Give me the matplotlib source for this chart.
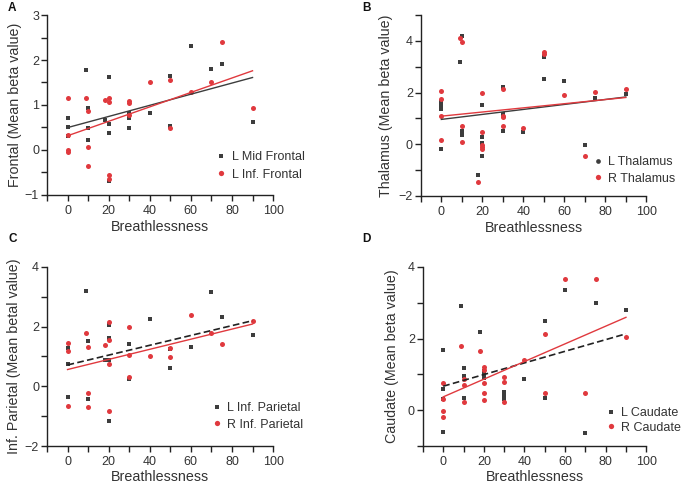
import numpy as np
import matplotlib
matplotlib.use('Agg')
import matplotlib.pyplot as plt
from matplotlib.lines import Line2D
from matplotlib.ticker import FixedLocator

plt.rcParams['font.family'] = ['Liberation Sans', 'DejaVu Sans']

GRAY = '#3d3d3d'
RED = '#e0393e'
TXT = '#333333'

# Panel A - frontal
a_l_x = [0, 0, 0, 9, 10, 10, 10, 18, 20, 20, 20, 20, 30, 30, 30, 40, 50, 50, 60, 70, 75, 90]
a_l_y = [0.70, 0.50, 0.30, 1.78, 0.93, 0.49, 0.22, 0.67, 1.62, 0.57, 0.37, -0.70, 0.83, 0.72, 0.48,
         0.81, 1.64, 0.54, 2.32, 1.80, 1.91, 0.61]
a_r_x = [0, 0, 0, 0, 9, 10, 10, 10, 18, 20, 20, 20, 20, 30, 30, 30, 40, 50, 50, 60, 70, 75, 90]
a_r_y = [1.15, 0.33, -0.01, -0.04, 1.16, 0.86, 0.07, -0.35, 1.11, 1.16, 1.07, -0.56, -0.64, 1.08, 1.04,
         0.78, 1.50, 1.55, 0.48, 1.28, 1.50, 2.41, 0.93]

# Panel B - thalamus
b_l_x = [0, 0, 0, 0, 9, 10, 10, 10, 10, 18, 20, 20, 20, 20, 30, 30, 30, 40, 50, 50, 60, 70, 75, 90]
b_l_y = [1.62, 1.53, 1.35, -0.17, 3.17, 4.18, 0.50, 0.43, 0.34, -1.20, 1.51, 0.26, 0.04, -0.44, 2.20,
         1.17, 0.50, 0.47, 3.37, 2.52, 2.46, -0.03, 1.77, 1.95]
b_r_x = [0, 0, 0, 0, 9, 10, 10, 10, 18, 20, 20, 20, 20, 20, 30, 30, 30, 30, 40, 50, 50, 60, 70, 75, 90]
b_r_y = [2.04, 1.75, 1.08, 0.17, 4.10, 3.95, 0.72, 0.07, -1.46, 1.99, 0.48, -0.03, -0.12, -0.19, 2.14,
         1.10, 1.05, 0.71, 0.62, 3.56, 3.49, 1.91, -0.45, 2.01, 2.14]

# Panel C - inferior parietal
c_l_x = [0, 0, 0, 9, 10, 10, 18, 20, 20, 20, 20, 30, 30, 40, 50, 50, 60, 70, 75, 90]
c_l_y = [1.30, 0.75, -0.36, 3.19, 1.52, -0.41, 0.89, 2.05, 1.61, 0.88, -1.17, 1.42, 0.25, 2.26, 1.25,
         0.63, 1.32, 3.15, 2.32, 1.72]
c_r_x = [0, 0, 0, 9, 10, 10, 10, 18, 20, 20, 20, 20, 30, 30, 30, 40, 50, 50, 60, 70, 75, 90]
c_r_y = [1.45, 1.19, -0.67, 1.79, 1.33, -0.23, -0.69, 1.39, 2.14, 1.56, 0.75, -0.84, 1.99, 1.04, 0.30,
         1.01, 1.27, 0.99, 2.40, 1.80, 1.42, 2.20]

# Panel D - caudate
d_l_x = [0, 0, 0, 0, 9, 10, 10, 10, 18, 20, 20, 20, 20, 30, 30, 30, 30, 40, 50, 50, 60, 70, 75, 90]
d_l_y = [1.68, 0.59, 0.31, -0.62, 2.92, 1.18, 0.96, 0.33, 2.18, 1.10, 1.02, 0.95, 0.90, 0.50, 0.44,
         0.37, 0.32, 0.86, 2.48, 0.34, 3.35, -0.64, 3.00, 2.81]
d_r_x = [0, 0, 0, 0, 9, 10, 10, 10, 18, 20, 20, 20, 20, 20, 30, 30, 30, 40, 50, 50, 60, 70, 75, 90]
d_r_y = [0.75, 0.31, -0.03, -0.18, 1.80, 0.87, 0.71, 0.22, 1.65, 1.21, 1.13, 0.76, 0.48, 0.28, 0.92,
         0.80, 0.23, 1.39, 2.13, 0.49, 3.66, 0.47, 3.67, 2.05]

fig = plt.figure(figsize=(6.81, 4.87), dpi=100)


def panel(rect, lx, ly, rx, ry, ylim, yticks, ylabel, labels, leg_pos, leg_space,
          dashed=False, round_legend=False, ylab_x=-0.11, xlab_y=-0.135):
    ax = fig.add_axes(rect)
    ax.scatter(lx, ly, marker='s', s=11, color=GRAY, linewidths=0, zorder=2)
    ax.scatter(rx, ry, marker='o', s=13, color=RED, linewidths=0, zorder=2)

    xs = np.array([0, 90])
    k, b = np.polyfit(lx, ly, 1)
    ax.plot(xs, k * xs + b, color='#222222' if dashed else GRAY, lw=1.0 if not dashed else 1.2,
            ls=(0, (4, 2)) if dashed else '-', zorder=3)
    k, b = np.polyfit(rx, ry, 1)
    ax.plot(xs, k * xs + b, color=RED, lw=1.0, zorder=3)

    ax.set_xlim(-10, 100)
    ax.set_ylim(*ylim)
    ax.set_xticks([0, 20, 40, 60, 80, 100])
    ax.xaxis.set_minor_locator(FixedLocator([-10, 10, 30, 50, 70, 90]))
    ax.set_yticks(yticks)
    step = yticks[1] - yticks[0]
    ax.yaxis.set_minor_locator(FixedLocator(np.arange(ylim[0], ylim[1] + 0.01, step / 2)))
    for s in ['top', 'right']:
        ax.spines[s].set_visible(False)
    for s in ['left', 'bottom']:
        ax.spines[s].set_color('#222222')
        ax.spines[s].set_linewidth(1.0)
    ax.tick_params(which='both', direction='out', length=4.2, width=1.0, color='#222222',
                   labelsize=9, labelcolor=TXT)
    ax.tick_params(axis='y', which='both', pad=1.5)
    ax.tick_params(axis='x', which='both', pad=3)

    ax.set_xlabel('Breathlessness', fontsize=10.3, color=TXT)
    ax.set_ylabel(ylabel, fontsize=10.3, color=TXT)
    ax.xaxis.set_label_coords(0.5, xlab_y)
    ax.yaxis.set_label_coords(ylab_x, 0.5)

    gm = 'o' if round_legend else 's'
    handles = [Line2D([], [], ls='', marker=gm, ms=3.4, color=GRAY, mew=0),
               Line2D([], [], ls='', marker='o', ms=3.8, color=RED, mew=0)]
    ax.legend(handles, labels, loc='upper left', bbox_to_anchor=leg_pos, frameon=False,
              fontsize=9, labelcolor=TXT, handlelength=0.8, handletextpad=0.45,
              borderpad=0, borderaxespad=0, labelspacing=leg_space)
    return ax


panel([0.069, 0.600, 0.332, 0.369], a_l_x, a_l_y, a_r_x, a_r_y, (-1, 3), [-1, 0, 1, 2, 3],
      'Frontal (Mean beta value)', ['L Mid Frontal', 'L Inf. Frontal'], (0.749, 0.244), 0.45,
      ylab_x=-0.111, xlab_y=-0.139)
panel([0.618, 0.598, 0.331, 0.371], b_l_x, b_l_y, b_r_x, b_r_y, (-2, 5), [-2, 0, 2, 4],
      'Thalamus (Mean beta value)', ['L Thalamus', 'R Thalamus'], (0.763, 0.219), 0.36,
      round_legend=True, ylab_x=-0.122, xlab_y=-0.14)
panel([0.069, 0.084, 0.332, 0.368], c_l_x, c_l_y, c_r_x, c_r_y, (-2, 4), [-2, 0, 2, 4],
      'Inf. Parietal (Mean betal value)', ['L Inf. Parietal', 'R Inf. Parietal'], (0.728, 0.245), 0.36,
      dashed=True, ylab_x=-0.116, xlab_y=-0.134)
panel([0.621, 0.084, 0.328, 0.368], d_l_x, d_l_y, d_r_x, d_r_y, (-1, 4), [0, 2, 4],
      'Caudate (Mean beta value)', ['L Caudate', 'R Caudate'], (0.819, 0.217), 0.2,
      dashed=True, ylab_x=-0.106, xlab_y=-0.134)

for letter, x, y in [('A', 0.0118, 0.9963), ('B', 0.5326, 0.9963), ('C', 0.0118, 0.522), ('D', 0.5326, 0.522)]:
    fig.text(x, y, letter, fontsize=8.5, fontweight='bold', color='#111111', va='top', ha='left')

fig.savefig('out.png', dpi=100)
